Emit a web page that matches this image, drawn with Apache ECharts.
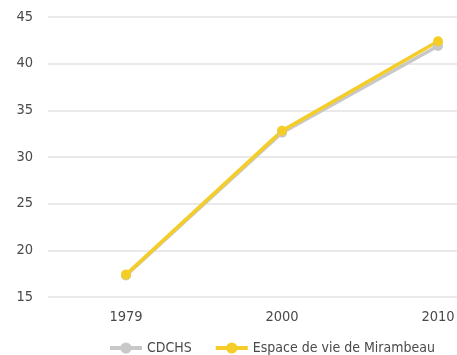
<!DOCTYPE html>
<html>
<head>
<meta charset="utf-8">
<script src="https://cdn.jsdelivr.net/npm/echarts@6/dist/echarts.min.js"></script>
<style>
html,body{margin:0;padding:0;background:#fff;}
#chart{width:457px;height:355px;}
</style>
</head>
<body>
<div id="chart"></div>
<script>
// Years on the category axis
const years = ['1979', '2000', '2010'];
// Series values
const cdchs = [17.3, 32.6, 41.9];
const mirambeau = [17.4, 32.8, 42.4];
// Value axis ticks
const yMin = 15, yMax = 45, yStep = 5;

const font = "'DejaVu Sans Condensed', 'Roboto', sans-serif";
const textColor = '#4a4a4a';
const chart = echarts.init(document.getElementById('chart'));
chart.setOption({
  animation: false,
  // plot area runs past the right edge of the canvas
  grid: { left: 48, top: 17, width: 468, height: 280, outerBoundsMode: 'none', containLabel: false },
  legend: {
    left: 103, top: 336,
    itemWidth: 32, itemHeight: 14, itemGap: 22,
    lineStyle: { width: 4 },
    textStyle: { color: textColor, fontSize: 14, fontFamily: font },
    data: ['CDCHS', 'Espace de vie de Mirambeau']
  },
  xAxis: {
    type: 'category', data: years, boundaryGap: true,
    axisLine: { show: false }, axisTick: { show: false },
    axisLabel: { color: textColor, fontSize: 14.5, fontFamily: font, margin: 13 }
  },
  yAxis: {
    type: 'value', min: yMin, max: yMax, interval: yStep,
    axisLine: { show: false }, axisTick: { show: false },
    splitLine: { lineStyle: { color: '#e3e3e3', width: 1.5 } },
    axisLabel: { color: textColor, fontSize: 14.5, fontFamily: font, margin: 15 }
  },
  series: [
    {
      name: 'CDCHS', type: 'line', data: cdchs,
      symbol: 'circle', symbolSize: 10,
      itemStyle: { color: '#c8c8c8' },
      lineStyle: { color: '#c8c8c8', width: 3.5 }
    },
    {
      name: 'Espace de vie de Mirambeau', type: 'line', data: mirambeau,
      symbol: 'circle', symbolSize: 10,
      itemStyle: { color: '#f5cd28' },
      lineStyle: { color: '#f5cd28', width: 3.5 }
    }
  ]
});
</script>
</body>
</html>
